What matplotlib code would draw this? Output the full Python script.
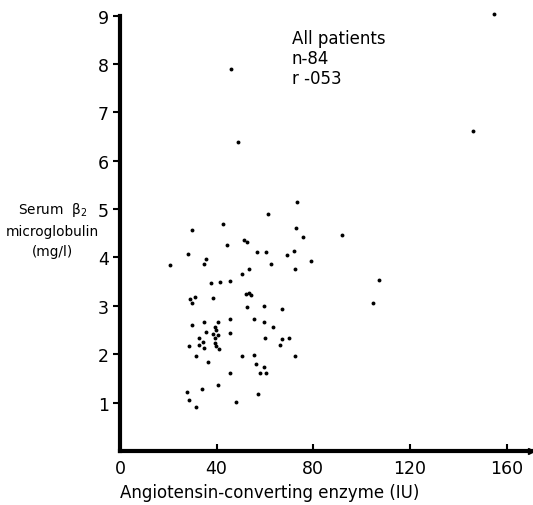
import numpy as np
import matplotlib
matplotlib.use("Agg")
import matplotlib.pyplot as plt

# ACE (IU) vs serum beta2 microglobulin (mg/l)
ace = [73.4, 61.2, 42.8, 30.0, 73.0, 75.9, 51.4, 52.6, 44.5, 28.1,
       35.8, 34.6, 20.7, 56.6, 60.3, 72.0, 69.1, 79.2, 62.4, 72.4,
       53.3, 50.7, 45.5, 41.3, 37.5, 52.1, 53.2, 54.4, 29.1, 31.0,
       29.9, 38.7, 52.4, 59.5, 67.2, 29.9, 34.6, 40.6, 45.6, 55.6,
       59.4, 63.2, 39.5, 39.9, 35.5, 38.4, 40.6, 45.6, 32.8, 39.3,
       34.2, 39.4, 28.5, 32.6, 34.8, 39.7, 40.8, 60.0, 67.2, 70.1,
       66.2, 31.3, 50.5, 55.4, 72.3, 36.6, 56.2, 59.8, 45.6, 58.1,
       60.3, 40.4, 33.8, 27.6, 57.1, 28.5, 48.2, 31.3,
       92.0, 107.3, 104.8, 46.0, 48.8, 154.7, 146.2]
b2m = [5.15, 4.90, 4.69, 4.56, 4.61, 4.42, 4.36, 4.31, 4.26, 4.07,
       3.97, 3.86, 3.85, 4.12, 4.11, 4.13, 4.05, 3.93, 3.87, 3.77,
       3.76, 3.66, 3.52, 3.50, 3.47, 3.24, 3.27, 3.22, 3.14, 3.18,
       3.06, 3.17, 2.98, 2.99, 2.93, 2.61, 2.67, 2.67, 2.73, 2.72,
       2.67, 2.57, 2.57, 2.50, 2.46, 2.42, 2.39, 2.43, 2.33, 2.33,
       2.26, 2.24, 2.17, 2.18, 2.12, 2.16, 2.11, 2.33, 2.31, 2.33,
       2.18, 1.97, 1.96, 1.98, 1.97, 1.83, 1.79, 1.73, 1.62, 1.61,
       1.62, 1.37, 1.27, 1.22, 1.17, 1.06, 1.01, 0.91,
       4.47, 3.53, 3.06, 7.90, 6.38, 9.04, 6.61]

xticks = [0, 40, 80, 120, 160]
yticks = [1, 2, 3, 4, 5, 6, 7, 8, 9]

fig = plt.figure(figsize=(5.33, 5.06), dpi=100)
ax = fig.add_axes([0.225, 0.107, 0.771, 0.86])

ax.plot(ace, b2m, 'o', color='black', markersize=2.8, markeredgewidth=0, clip_on=False)

ax.set_xlim(0, 170)
ax.set_ylim(0, 9)
ax.set_xticks(xticks)
ax.set_yticks(yticks)

for s in ['top', 'right']:
    ax.spines[s].set_visible(False)
ax.spines['left'].set_linewidth(3)
ax.spines['bottom'].set_linewidth(3)
ax.spines['left'].set_bounds(0, 9)

ax.tick_params(axis='x', direction='in', length=5, width=1.5, labelsize=12.5, pad=6)
ax.tick_params(axis='y', direction='out', length=5, width=1.5, labelsize=12.5, pad=3)

# arrow head at the end of the x axis
ax.plot([1.0], [0], marker='>', color='black', markersize=5,
        transform=ax.get_yaxis_transform(), clip_on=False)

ax.set_xlabel('Angiotensin-converting enzyme (IU)', fontsize=12, loc='left', labelpad=4)

fig.text(0.098, 0.603, 'Serum  β$_2$\nmicroglobulin\n(mg/l)', fontsize=9.8,
         ha='center', va='top', linespacing=1.55)

ax.text(0.418, 0.97, 'All patients\nn-84\nr -053', transform=ax.transAxes,
        fontsize=12, ha='left', va='top', linespacing=1.15)

fig.savefig('out.png', dpi=100)
